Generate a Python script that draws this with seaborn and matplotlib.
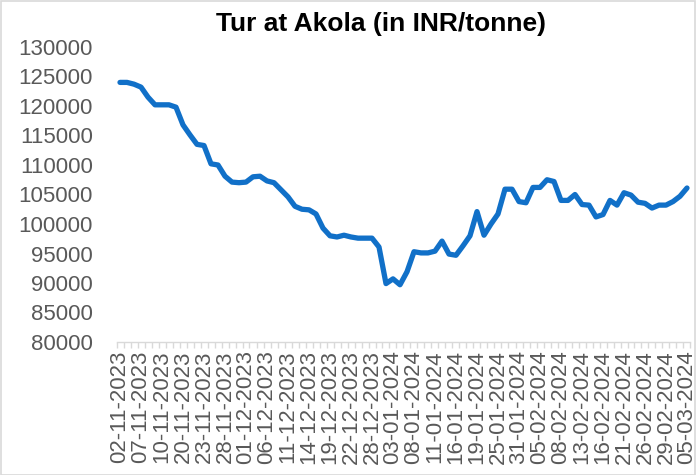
import matplotlib
matplotlib.use("Agg")
import matplotlib.pyplot as plt
from matplotlib.patches import Rectangle
import numpy as np
import pandas as pd
import seaborn as sns

# Tur prices at Akola, one value per trading day
prices = [
    124000, 124000, 123700, 123200, 121500, 120200, 120200, 120200, 119800, 116800,
    115100, 113500, 113300, 110200, 110000, 108100, 107100, 107000, 107100, 108000,
    108100, 107300, 107000, 105800, 104600, 103000, 102500, 102400, 101700, 99300,
    98000, 97800, 98100, 97800, 97600, 97600, 97600, 96100, 89900, 90700,
    89700, 91900, 95300, 95100, 95100, 95400, 97100, 94900, 94700, 96300,
    98000, 102100, 98100, 100000, 101700, 105900, 105900, 103800, 103600, 106200,
    106200, 107500, 107200, 104000, 104000, 105000, 103300, 103200, 101200, 101600,
    104000, 103200, 105300, 104900, 103700, 103500, 102700, 103200, 103200, 103800,
    104700, 106100,
]

# dates shown on the axis (every third trading day)
tick_dates = [
    "02-11-2023", "07-11-2023", "10-11-2023", "20-11-2023", "23-11-2023",
    "28-11-2023", "01-12-2023", "06-12-2023", "11-12-2023", "14-12-2023",
    "19-12-2023", "22-12-2023", "28-12-2023", "03-01-2024", "08-01-2024",
    "11-01-2024", "16-01-2024", "19-01-2024", "25-01-2024", "31-01-2024",
    "05-02-2024", "08-02-2024", "13-02-2024", "16-02-2024", "21-02-2024",
    "26-02-2024", "29-02-2024", "05-03-2024",
]
y_ticks = [80000, 85000, 90000, 95000, 100000, 105000, 110000, 115000, 120000, 125000, 130000]

df = pd.DataFrame({"day": np.arange(len(prices)), "price": prices})

sns.set_theme(style="white")
plt.rcParams["font.family"] = ["Liberation Sans", "DejaVu Sans"]

fig = plt.figure(figsize=(6.96, 4.75), dpi=100)
ax = fig.add_axes([116.5 / 696, 1 - 342 / 475, (690.5 - 116.5) / 696, (342 - 47) / 475])

sns.lineplot(data=df, x="day", y="price", ax=ax, color="#1170C8", linewidth=3.8,
             solid_joinstyle="round", solid_capstyle="round")

n = len(prices)
ax.set_xlim(-0.5, n - 0.5)
ax.set_ylim(80000, 130000)
ax.set_yticks(y_ticks)
ax.set_yticklabels([str(v) for v in y_ticks])
ax.set_xticks(np.arange(0, n, 3))
ax.set_xticklabels(tick_dates, rotation=90)
ax.set_xticks(np.arange(n + 1) - 0.5, minor=True)
ax.set_xlabel("")
ax.set_ylabel("")

ax.tick_params(axis="y", which="major", length=0, pad=17, labelsize=16, labelcolor="#595959")
ax.tick_params(axis="x", which="major", length=0, pad=6, labelsize=16, labelcolor="#595959")
ax.tick_params(axis="x", which="minor", bottom=True, length=4, width=1, color="#d9d9d9", direction="out")

for side in ["left", "right", "top"]:
    ax.spines[side].set_visible(False)
ax.spines["bottom"].set_color("#d9d9d9")
ax.spines["bottom"].set_linewidth(1)
ax.grid(False)

fig.text(381 / 696, 1 - 24 / 475, "Tur at Akola (in INR/tonne)", ha="center", va="center",
         fontsize=19, fontweight="bold", color="black")

fig.patches.append(Rectangle((0.001, 0.001), 0.997, 0.997, transform=fig.transFigure,
                             fill=False, edgecolor="#d9d9d9", linewidth=1.2))

fig.savefig("out.png", dpi=100)
